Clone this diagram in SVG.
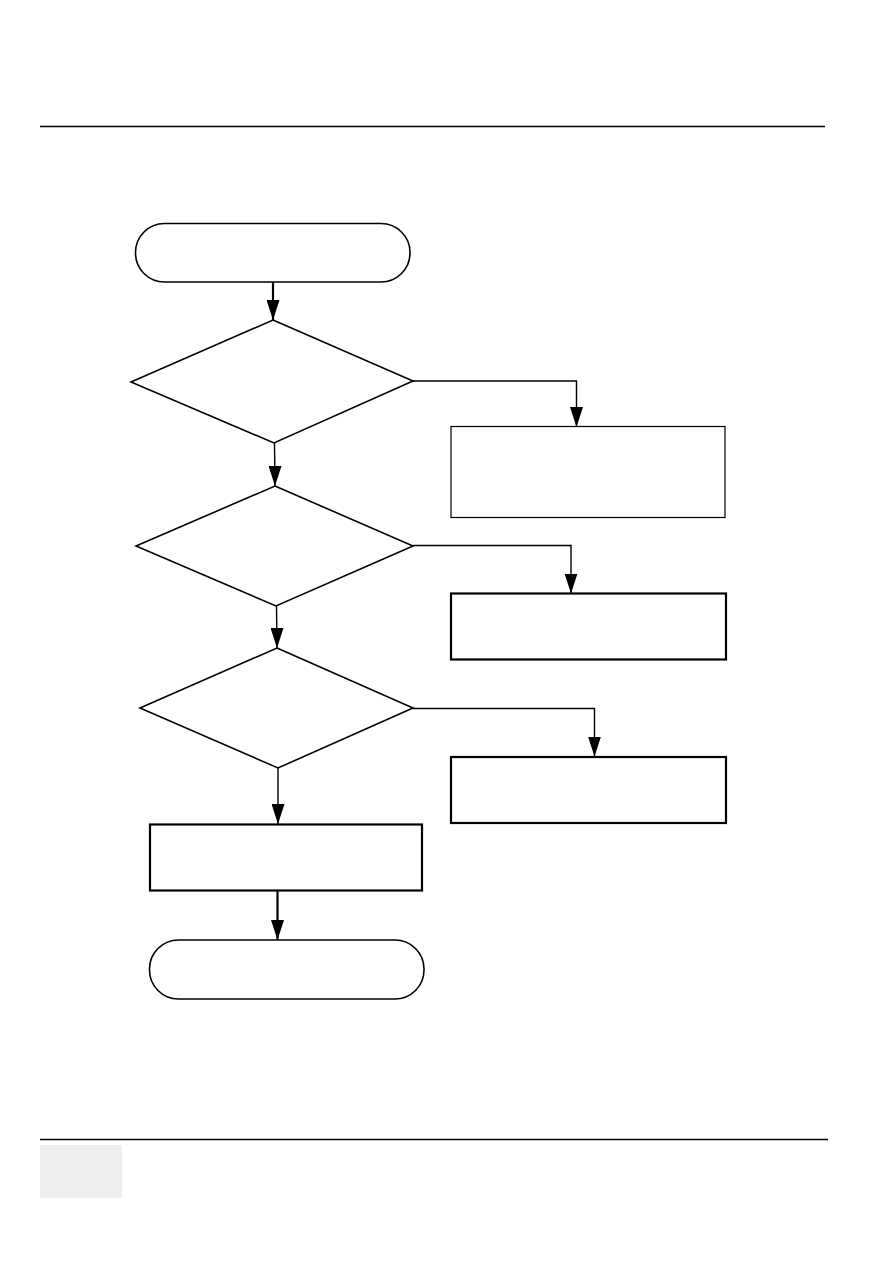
<svg xmlns="http://www.w3.org/2000/svg" width="893" height="1263" viewBox="0 0 893 1263">
<style>
.shape{fill:#fff;stroke:#000;stroke-width:1.6}
.thick{stroke-width:2.2}
.thin{stroke-width:1.2}
.conn{fill:none;stroke:#000;stroke-width:1.4}
.conn2{fill:none;stroke:#000;stroke-width:2.2}
</style>
<defs>
<marker id="ahd" markerUnits="userSpaceOnUse" markerWidth="13" markerHeight="20" viewBox="0 0 13 20" refX="6.5" refY="20" orient="0">
<path d="M0,0 L13,0 L6.5,20 Z" fill="#000"/>
</marker>
</defs>
<rect width="893" height="1263" fill="#fff"/>
<g id="page">
<line x1="40" y1="126.5" x2="825" y2="126.5" stroke="#000" stroke-width="1.5"/>
<line x1="40" y1="1139.5" x2="828" y2="1139.5" stroke="#000" stroke-width="1.5"/>
<rect x="40" y="1145" width="82" height="53" fill="#eeeeee"/>
</g>
<g id="connectors">
<line class="conn2" x1="273" y1="282" x2="273" y2="320" marker-end="url(#ahd)"/>
<path class="conn" d="M413,381 H576.5 V427" marker-end="url(#ahd)"/>
<line class="conn" x1="274.5" y1="443" x2="275" y2="486" marker-end="url(#ahd)"/>
<path class="conn" d="M413,545.5 H571 V593.5" marker-end="url(#ahd)"/>
<line class="conn" x1="276.5" y1="606" x2="277" y2="648" marker-end="url(#ahd)"/>
<path class="conn" d="M413,708.5 H594.5 V756.5" marker-end="url(#ahd)"/>
<line class="conn" x1="278" y1="768" x2="278" y2="824" marker-end="url(#ahd)"/>
<line class="conn2" x1="277.5" y1="891" x2="277.5" y2="940" marker-end="url(#ahd)"/>
</g>
<g id="start"><rect class="shape" x="135.5" y="223.5" width="274.5" height="58.5" rx="29" ry="29"/></g>
<g id="decision1"><polygon class="shape" points="273,320 413,381 274,443 131,382"/></g>
<g id="box1"><rect class="shape thin" x="451" y="426.5" width="274" height="91"/></g>
<g id="decision2"><polygon class="shape" points="275,486 413,546 276,606 136,546"/></g>
<g id="box2"><rect class="shape thick" x="451" y="593.5" width="275" height="66"/></g>
<g id="decision3"><polygon class="shape" points="277,648 413,708 278,768 140,708"/></g>
<g id="box3"><rect class="shape thick" x="451" y="757" width="275" height="66"/></g>
<g id="box4"><rect class="shape thick" x="150" y="824.5" width="272" height="66"/></g>
<g id="end"><rect class="shape" x="149.5" y="940" width="274.5" height="59" rx="29" ry="29"/></g>
</svg>
